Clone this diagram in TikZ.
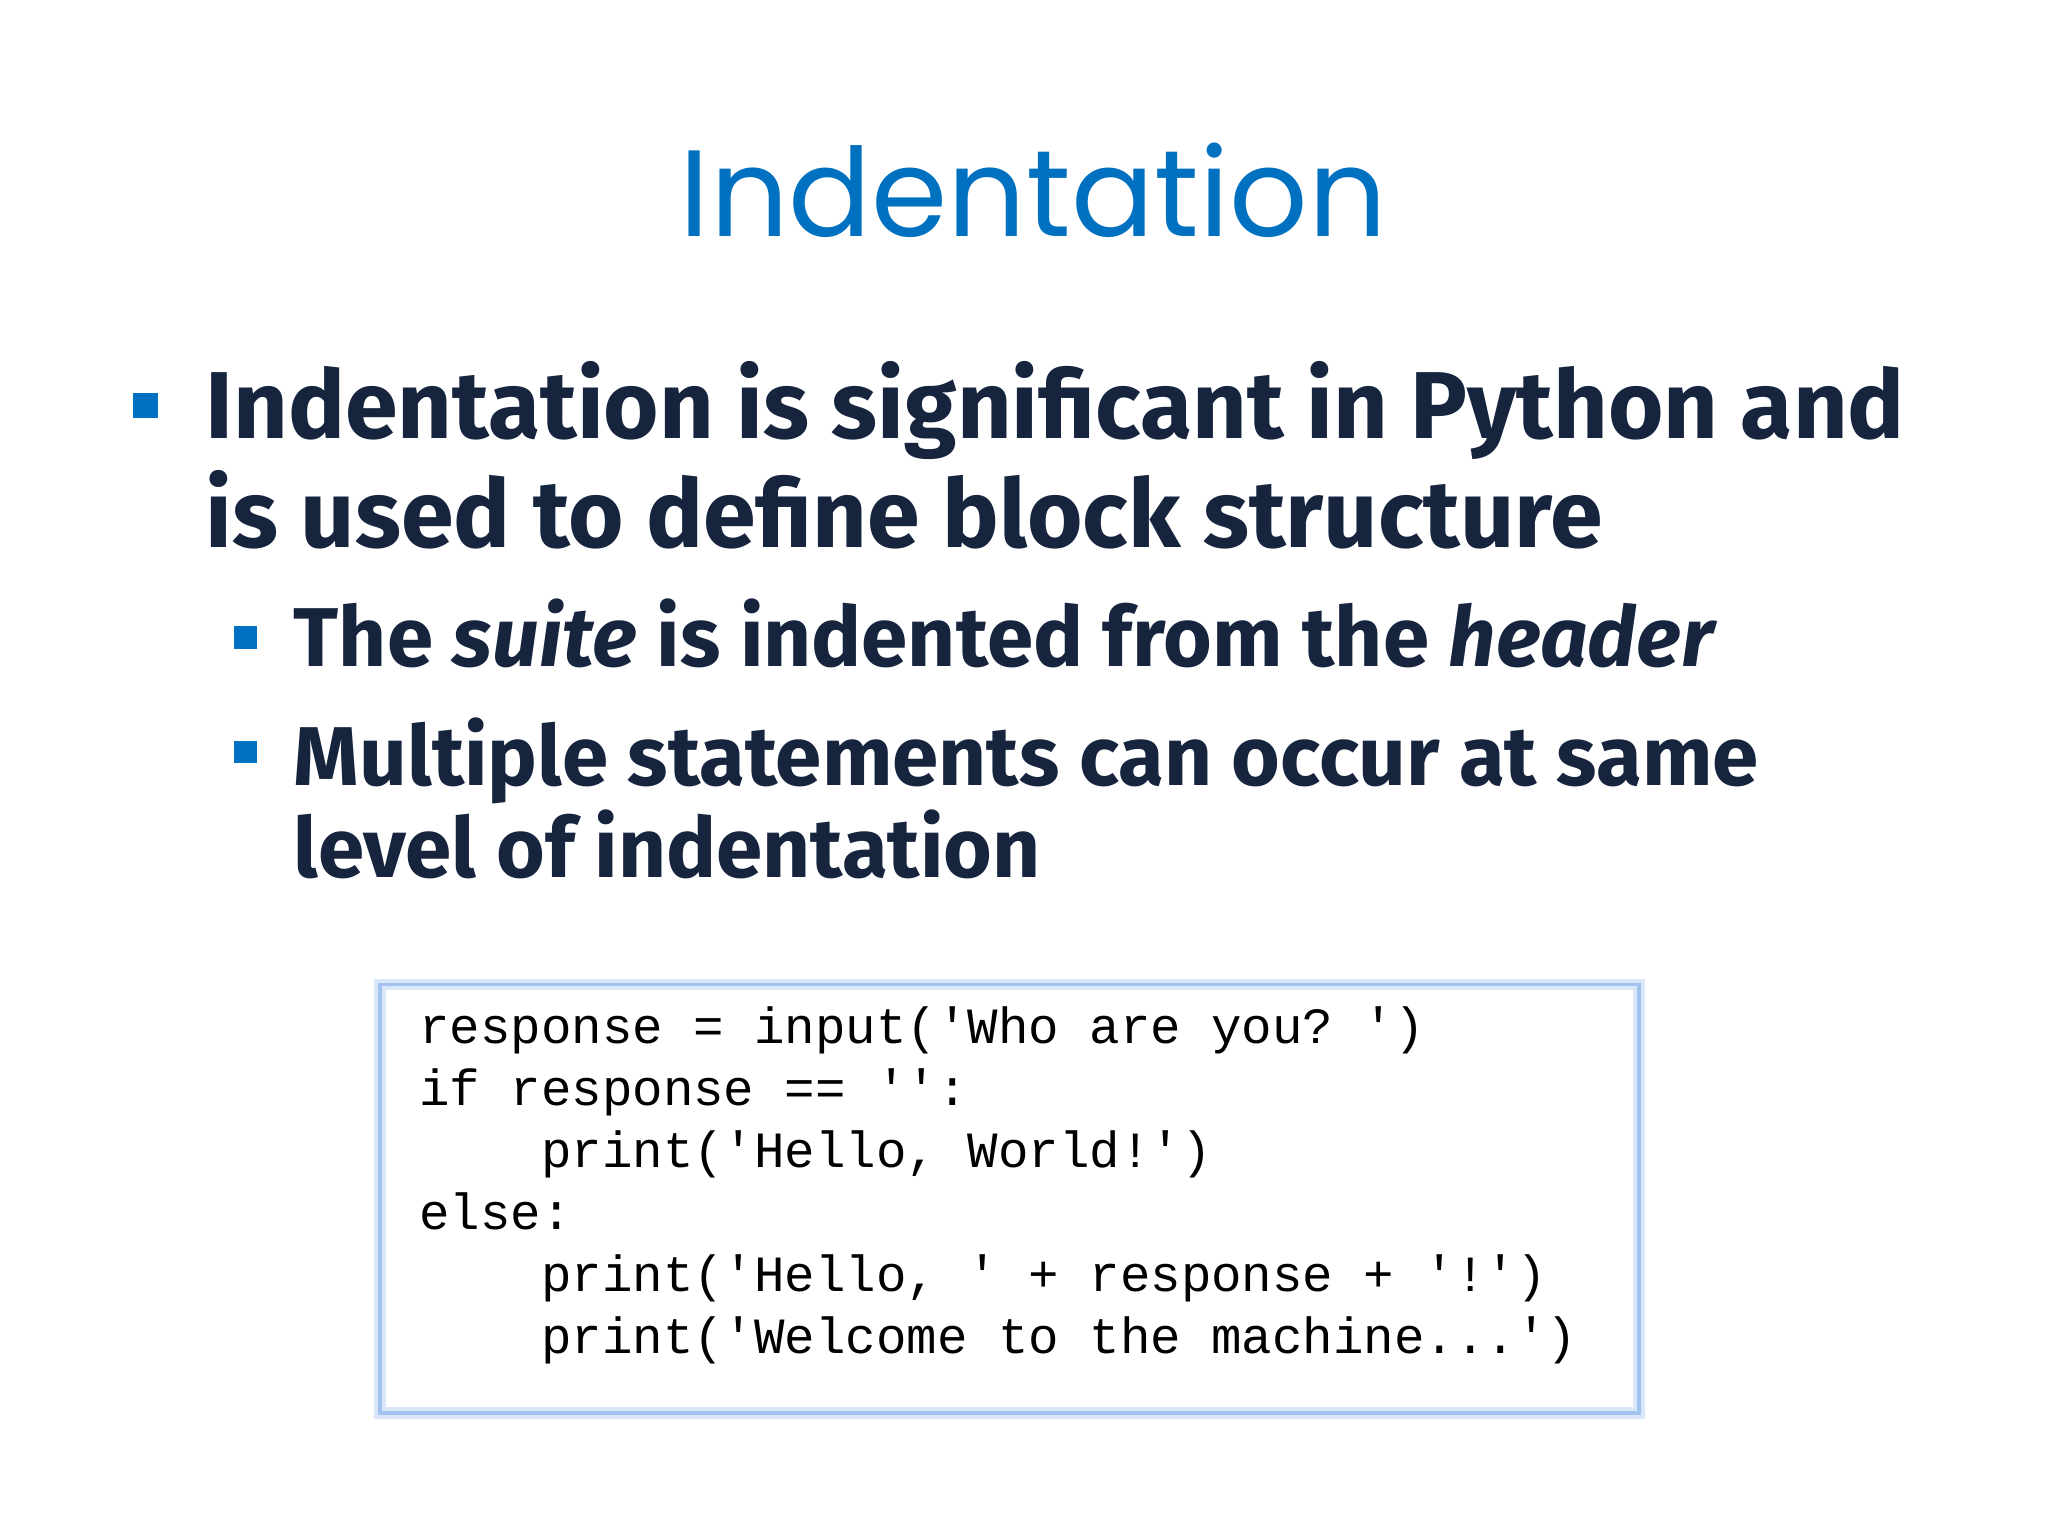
\documentclass[tikz,border=0pt]{standalone}
\usepackage{fontspec}
\setmainfont{Fira Sans}
\newfontfamily\titlefont{Poppins}
\setmonofont{Liberation Mono}
\definecolor{slideblue}{RGB}{0,112,192}
\definecolor{slidetext}{RGB}{22,36,62}
\definecolor{codeframe}{RGB}{160,195,240}
\begin{document}
\begin{tikzpicture}[
    bulletsq/.style={fill=slideblue, inner sep=0pt, minimum size=#1},
    bullettext/.style={anchor=base west, inner sep=0pt, text=slidetext, font=\fontsize{20.5}{24}\selectfont\bfseries},
    codeline/.style={anchor=base west, inner sep=0pt, font=\fontsize{10.95}{13}\selectfont\ttfamily}
  ]
    \useasboundingbox[fill=white] (0,0) rectangle (15.52,11.64);
    \node[text=slideblue, font=\titlefont\fontsize{26.5}{31}\selectfont] (Title) at (7.83,10.20) {Indentation};

    \node[bulletsq=0.19cm] (B1) at (1.10,8.57) {};
    \node[bullettext] (L1) at (1.55,8.32) {Indentation is significant in Python and};
    \node[bullettext] (L2) at (1.55,7.49) {is used to define block structure};

    \node[bulletsq=0.17cm] (B2) at (1.86,6.81) {};
    \node[bullettext, font=\fontsize{18}{22}\selectfont\bfseries] (S1) at (2.22,6.59) {The \textit{suite} is indented from the \textit{header}};
    \node[bulletsq=0.17cm] (B3) at (1.86,5.94) {};
    \node[bullettext, font=\fontsize{18}{22}\selectfont\bfseries] (S2) at (2.22,5.69) {Multiple statements can occur at same};
    \node[bullettext, font=\fontsize{18}{22}\selectfont\bfseries] (S3) at (2.22,4.99) {level of indentation};

    % code box
    \draw[codeframe!40, line width=2.5pt] (2.88,0.93) rectangle (12.42,4.18);
    \draw[codeframe, line width=0.8pt] (2.88,0.93) rectangle (12.42,4.18);
    \node[codeline] (C1) at (3.17,3.73) {response = input('Who are you? ')};
    \node[codeline] (C2) at (3.17,3.26) {if response == '':};
    \node[codeline] (C3) at (3.17,2.79) {\ \ \ \ print('Hello, World!')};
    \node[codeline] (C4) at (3.17,2.32) {else:};
    \node[codeline] (C5) at (3.17,1.85) {\ \ \ \ print('Hello, ' + response + '!')};
    \node[codeline] (C6) at (3.17,1.38) {\ \ \ \ print('Welcome to the machine...')};
\end{tikzpicture}
\end{document}
